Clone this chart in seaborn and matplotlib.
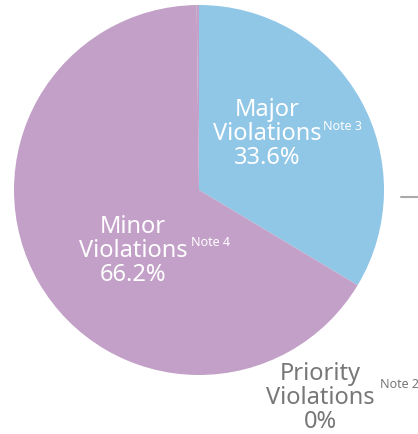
import matplotlib
matplotlib.use('Agg')
import matplotlib.pyplot as plt
import seaborn as sns

# data
labels = ['Major\nViolations', 'Minor\nViolations', 'Priority\nViolations']
values = [33.6, 66.2, 0.2]
shown_pct = ['33.6%', '66.2%', '0%']
notes = ['Note 3', 'Note 4', 'Note 2']
colors = ['#90c6e6', '#c3a0c8', '#c3a0c8']

sns.set_theme(style='white')
plt.rcParams['font.family'] = ['Noto Sans', 'DejaVu Sans']

W, H = 418, 434
fig = plt.figure(figsize=(W / 100, H / 100), dpi=100)
ax = fig.add_axes([0, 0, 1, 1])

def py(y):
    # pixel row from the top -> data y
    return H - y

ax.pie(values, colors=colors, startangle=90, counterclock=False,
       center=(199, py(190)), radius=185, frame=True,
       wedgeprops=dict(linewidth=0))
ax.set_xlim(0, W)
ax.set_ylim(0, H)
ax.axis('off')

# label centres (pixel coords of the middle line) and superscript spots
spots = [(267, 134), (133, 251), (320, 398)]
note_at = [(323, 127), (191, 243), (380, 384)]
text_col = ['white', 'white', '#777777']

for lab, pct, note, (x, y), (nx, ny), c in zip(labels, shown_pct, notes, spots, note_at, text_col):
    ax.text(x, py(y), lab + '\n' + pct, ha='center', va='center',
            fontsize=17, color=c, linespacing=0.98)
    ax.text(nx, py(ny), note, ha='left', va='center', fontsize=9, color=c)

# leader line stub on the right
ax.plot([401, 418], [py(197), py(197)], color='#aaaaaa', lw=1.5)

fig.savefig('out.png', dpi=100)
